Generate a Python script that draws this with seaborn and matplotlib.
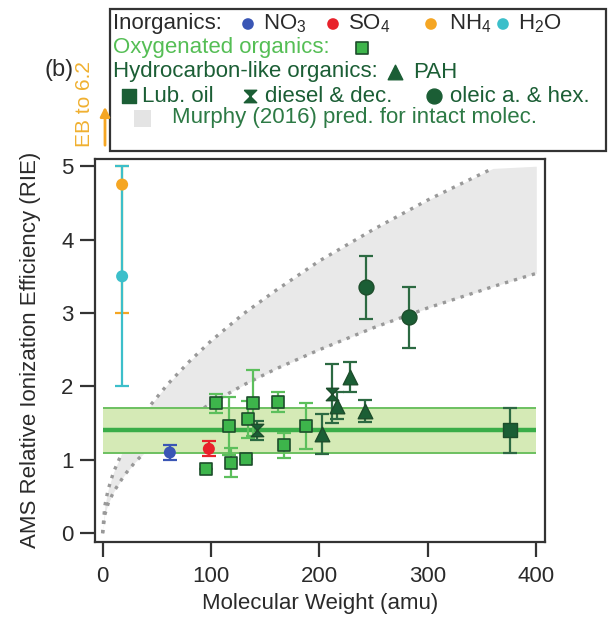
import numpy as np
import seaborn as sns
import matplotlib.pyplot as plt
from matplotlib.path import Path
from matplotlib.patches import Rectangle

# ---- data ----
# inorganics
inorg_names = ["NO3", "SO4", "NH4", "H2O"]
inorg_mw = [62, 98, 18, 18]
inorg_rie = [1.10, 1.15, 4.75, 3.5]
inorg_err_lo = [0.10, 0.10, 1.75, 1.5]
inorg_err_hi = [0.10, 0.10, 0.25, 1.5]
inorg_colors = ["#3a56b5", "#e8222b", "#f5a623", "#3cbfca"]

# oxygenated organics
oxy_mw = [95, 105, 117, 118.5, 132, 134, 139, 162, 167, 188]
oxy_rie = [0.87, 1.77, 1.46, 0.96, 1.01, 1.55, 1.78, 1.79, 1.20, 1.46]
oxy_err = [0.0, 0.13, 0.40, 0.20, 0.0, 0.25, 0.45, 0.14, 0.17, 0.31]

# hydrocarbon-like organics
pah_mw = [202, 216.5, 228, 242]
pah_rie = [1.35, 1.74, 2.13, 1.66]
pah_err = [0.27, 0.18, 0.20, 0.15]

lub_mw = [376]
lub_rie = [1.40]
lub_err = [0.30]

diesel_mw = [142.5, 212]
diesel_rie = [1.40, 1.90]
diesel_err = [0.13, 0.40]

oleic_mw = [243, 282.5]
oleic_rie = [3.35, 2.94]
oleic_err = [0.43, 0.42]

# Murphy (2016) prediction range
murphy_mw = [0, 2, 5, 10, 20, 30, 45, 60, 80, 100, 130, 160, 200, 250, 300, 350, 360, 400]
murphy_hi = [0, 0.37, 0.59, 0.83, 1.17, 1.43, 1.76, 2.03, 2.34, 2.62, 2.99, 3.31, 3.71, 4.14, 4.54, 4.90, 4.97, 5.24]
murphy_lo = [0, 0.25, 0.40, 0.56, 0.79, 0.97, 1.19, 1.37, 1.58, 1.77, 2.02, 2.24, 2.50, 2.80, 3.07, 3.31, 3.36, 3.54]

# average RIE of organics band
band_x = [0, 400]
band_mid = 1.4
band_lo = 1.1
band_hi = 1.7

oxy_fill = "#3db54b"
hoa_col = "#1b5e35"
oxy_bar = "#5cbf5c"
edge_dark = "#1d4d2b"
txt = "#2a2a2a"

sns.set_theme(style="ticks")
plt.rcParams['font.family'] = ['Liberation Sans', 'DejaVu Sans']
plt.rcParams['mathtext.fontset'] = 'custom'
plt.rcParams['mathtext.rm'] = 'Liberation Sans'

fig = plt.figure(figsize=(6.13, 6.21), dpi=100)
ax = fig.add_axes([0.155, 0.1277, 0.734, 0.6165])

# grey prediction area + dotted bounds
mw = np.array(murphy_mw)
hi = np.array(murphy_hi)
lo = np.array(murphy_lo)
ax.fill_between(mw, lo, np.minimum(hi, 5.0), color="#e9e9e9", lw=0, zorder=1)
keep = hi <= 5.0
ax.plot(mw[keep], hi[keep], ls=(0, (1, 1.8)), lw=2.4, color="#999999", zorder=1.5)
ax.plot(mw, lo, ls=(0, (1, 1.8)), lw=2.4, color="#999999", zorder=1.5)

# band
ax.fill_between(band_x, [band_lo] * 2, [band_hi] * 2, color="#d5eab6", lw=0, zorder=2)
ax.hlines([band_lo, band_hi], band_x[0], band_x[1], color="#6cc060", lw=1.4, zorder=2.1)
ax.hlines(band_mid, band_x[0], band_x[1], color="#3aad48", lw=3.2, zorder=2.2)

ebkw = dict(fmt="none", capsize=5, elinewidth=1.6, capthick=1.6, zorder=3)

# inorganics
for i in range(len(inorg_names)):
    ax.errorbar([inorg_mw[i]], [inorg_rie[i]],
                yerr=[[inorg_err_lo[i]], [inorg_err_hi[i]]],
                ecolor=inorg_colors[i], **ebkw)
sns.scatterplot(x=inorg_mw, y=inorg_rie, hue=inorg_names, palette=inorg_colors,
                s=75, edgecolor="none", legend=False, ax=ax, zorder=4)

# oxygenated organics
ax.errorbar(oxy_mw, oxy_rie, yerr=oxy_err, ecolor=oxy_bar, **ebkw)
sns.scatterplot(x=oxy_mw, y=oxy_rie, marker="s", s=80, color=oxy_fill,
                edgecolor=edge_dark, linewidth=1.2, ax=ax, zorder=4)

# hydrocarbon-like organics
hourglass = Path([(-1, 1), (1, 1), (-1, -1), (1, -1), (-1, 1)])
for xs, ys, es, mk, ss in [(pah_mw, pah_rie, pah_err, "^", 110),
                           (lub_mw, lub_rie, lub_err, "s", 110),
                           (diesel_mw, diesel_rie, diesel_err, hourglass, 80),
                           (oleic_mw, oleic_rie, oleic_err, "o", 115)]:
    ax.errorbar(xs, ys, yerr=es, ecolor="#2c6a42", **ebkw)
    sns.scatterplot(x=xs, y=ys, marker=mk, s=ss, color=hoa_col,
                    edgecolor=edge_dark, linewidth=1, ax=ax, zorder=4)

ax.set_xlim(-7, 408)
ax.set_ylim(-0.115, 5.1)
ax.set_xticks([0, 100, 200, 300, 400])
ax.set_yticks([0, 1, 2, 3, 4, 5])
for s in ax.spines.values():
    s.set_color("#333333")
    s.set_linewidth(1.6)
ax.tick_params(direction="out", length=10.5, width=1.6, color="#333333",
               labelsize=16, labelcolor=txt)
ax.tick_params(axis="x", pad=7)
ax.tick_params(axis="y", pad=5)
ax.set_xlabel("Molecular Weight (amu)", fontsize=16, color=txt)
ax.set_ylabel("AMS Relative Ionization Efficiency (RIE)", fontsize=16, color=txt)
ax.xaxis.set_label_coords(0.5, -0.135)
ax.yaxis.set_label_coords(-0.12, 0.5)

# ---- legend block drawn in pixel space ----
lax = fig.add_axes([0, 0, 1, 1])
lax.set_xlim(0, 613)
lax.set_ylim(621, 0)
lax.axis("off")
lax.add_patch(Rectangle((110, 9), 496, 142, facecolor="white", edgecolor="#333333", lw=1.6))
fs = 16
tk = dict(fontsize=fs, va="center", ha="left")
lax.text(113, 24, "Inorganics:", color=txt, **tk)
for xm, xt, lab, c in [(248, 263, "NO$_3$", inorg_colors[0]), (333, 348, "SO$_4$", inorg_colors[1]),
                       (431, 449, "NH$_4$", inorg_colors[2]), (503, 518, "H$_2$O", inorg_colors[3])]:
    lax.scatter([xm], [24], s=70, color=c, edgecolor="none")
    lax.text(xt, 24, lab, color=txt, **tk)
lax.text(113, 48, "Oxygenated organics:", color="#55be55", **tk)
lax.scatter([362], [48], marker="s", s=80, color=oxy_fill, edgecolor=edge_dark, lw=1.2)
lax.text(113, 72, "Hydrocarbon-like organics:", color=hoa_col, **tk)
lax.scatter([395], [72], marker="^", s=110, color=hoa_col)
lax.text(413, 72, "PAH", color=hoa_col, **tk)
lax.scatter([129], [96], marker="s", s=110, color=hoa_col)
lax.text(142, 96, "Lub. oil", color=hoa_col, **tk)
lax.scatter([250], [96], marker=hourglass, s=80, color=hoa_col)
lax.text(265, 96, "diesel & dec.", color=hoa_col, **tk)
lax.scatter([434], [96], marker="o", s=115, color=hoa_col)
lax.text(450, 96, "oleic a. & hex.", color=hoa_col, **tk)
lax.add_patch(Rectangle((134, 110), 17, 17, facecolor="#e4e4e4", edgecolor="none"))
lax.text(172, 118, "Murphy (2016) pred. for intact molec.", color="#2d7a45", **tk)

lax.text(44, 70, "(b)", fontsize=17, color=txt, va="center", ha="left")
lax.text(84, 104, "EB to 6.2", fontsize=15, color="#f0b030", rotation=90,
         va="center", ha="center")
lax.annotate("", xy=(105, 104), xytext=(105, 148),
             arrowprops=dict(arrowstyle="-|>", color="#f5a623", lw=2, mutation_scale=14))

fig.savefig("out.png", dpi=100)
